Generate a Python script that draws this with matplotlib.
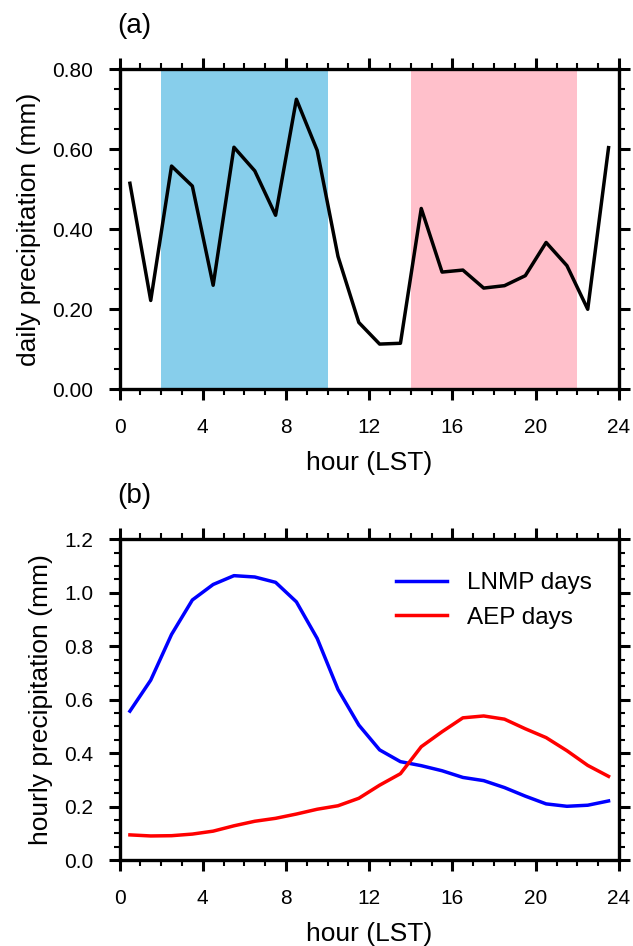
import numpy as np
import matplotlib
matplotlib.use("Agg")
import matplotlib.pyplot as plt
from matplotlib.ticker import MultipleLocator, FormatStrFormatter

plt.rcParams['font.family'] = ['Liberation Sans', 'DejaVu Sans']

# hours (LST), half-hour centres
hours = np.arange(0.5, 24, 1.0)

# (a) daily precipitation by hour
daily = [0.515, 0.222, 0.558, 0.508, 0.260, 0.605, 0.546, 0.435, 0.725, 0.597,
         0.332, 0.167, 0.113, 0.115, 0.452, 0.293, 0.298, 0.253, 0.259, 0.284,
         0.367, 0.309, 0.200, 0.604]

# (b) hourly precipitation
lnmp = [0.557, 0.673, 0.844, 0.973, 1.031, 1.064, 1.059, 1.039, 0.966, 0.829,
        0.638, 0.505, 0.412, 0.368, 0.353, 0.334, 0.309, 0.297, 0.271, 0.239,
        0.210, 0.201, 0.205, 0.221]
aep = [0.094, 0.090, 0.091, 0.097, 0.108, 0.128, 0.145, 0.156, 0.172, 0.190,
       0.203, 0.231, 0.280, 0.323, 0.424, 0.480, 0.532, 0.539, 0.527, 0.491,
       0.458, 0.409, 0.354, 0.313]

# shaded periods
blue_span = (2, 10)
pink_span = (14, 22)

fig = plt.figure(figsize=(6.33, 9.46), dpi=100)
ax1 = fig.add_axes([0.1888, 0.5885, 0.789, 0.3383])
ax2 = fig.add_axes([0.1888, 0.0909, 0.789, 0.3390])


def style_axes(ax):
    for s in ax.spines.values():
        s.set_linewidth(2.4)
    ax.tick_params(which='both', direction='out', top=True, right=True,
                   labeltop=False, labelright=False, labelsize=15)
    ax.tick_params(which='major', length=8, width=2.2, pad=11)
    ax.tick_params(axis='x', which='major', pad=13)
    ax.tick_params(which='minor', length=4, width=1.5)
    ax.set_xlim(0, 24)
    ax.xaxis.set_major_locator(MultipleLocator(4))
    ax.xaxis.set_minor_locator(MultipleLocator(1))
    ax.yaxis.set_minor_locator(MultipleLocator(0.05))
    ax.set_xlabel('hour (LST)', fontsize=19, labelpad=10)


# panel (a)
ax1.axvspan(*blue_span, color='#87CEEB', lw=0)
ax1.axvspan(*pink_span, color='#FFC0CB', lw=0)
ax1.plot(hours, daily, color='black', lw=2.5)
ax1.set_ylim(0, 0.8)
ax1.yaxis.set_major_locator(MultipleLocator(0.2))
ax1.yaxis.set_major_formatter(FormatStrFormatter('%.2f'))
style_axes(ax1)
ax1.set_ylabel('daily precipitation (mm)', fontsize=19, labelpad=8)
ax1.text(-0.005, 1.095, '(a)', transform=ax1.transAxes, fontsize=20,
         ha='left', va='bottom')

# panel (b)
ax2.plot(hours, lnmp, color='#0000FF', lw=2.5, label='LNMP days')
ax2.plot(hours, aep, color='#FF0000', lw=2.5, label='AEP days')
ax2.set_ylim(0, 1.2)
ax2.yaxis.set_major_locator(MultipleLocator(0.2))
ax2.yaxis.set_major_formatter(FormatStrFormatter('%.1f'))
style_axes(ax2)
ax2.set_ylabel('hourly precipitation (mm)', fontsize=19, labelpad=8)
ax2.text(-0.005, 1.095, '(b)', transform=ax2.transAxes, fontsize=20,
         ha='left', va='bottom')
ax2.legend(loc='upper right', bbox_to_anchor=(0.99, 0.965), frameon=False,
           fontsize=17.5, handlelength=2.1, handletextpad=0.85, labelspacing=0.5)

fig.savefig('out.png', dpi=100)
